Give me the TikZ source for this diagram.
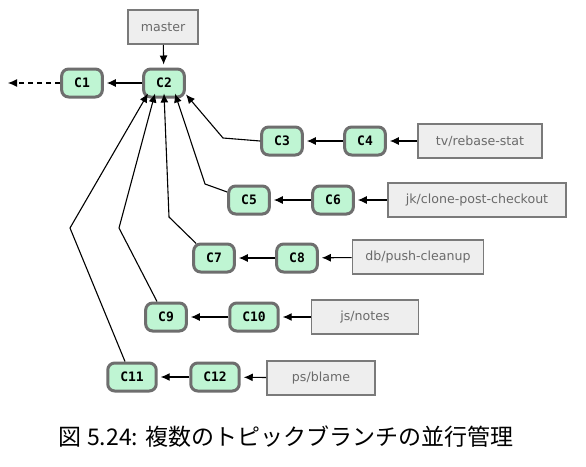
\documentclass[tikz,border=0pt]{standalone}
\usepackage{fontspec}
\setmainfont{DejaVu Sans}
\newfontfamily\cjk{Noto Sans CJK JP}
\newfontfamily\commitfont{DejaVu Sans Mono}
\usetikzlibrary{arrows.meta,positioning,calc}
\definecolor{cfill}{HTML}{BFF5D3}
\definecolor{cdraw}{HTML}{6E6E6E}
\definecolor{lfill}{HTML}{EEEEEE}
\definecolor{ldraw}{HTML}{7A7A7A}
\definecolor{ltext}{HTML}{6A6A6A}
\tikzset{
  commit/.style={draw=cdraw, fill=cfill, line width=3pt, rounded corners=7pt,
    minimum height=28pt, inner xsep=12.5pt, inner ysep=0pt,
    font=\commitfont\bfseries\fontsize{13}{13}\selectfont},
  refbox/.style={draw=ldraw, fill=lfill, line width=1.6pt, text=ltext,
    minimum height=34pt, inner xsep=3pt, inner ysep=0pt,
    font=\fontsize{12.6}{13}\selectfont},
  arr/.style={draw=black, line width=1.1pt, -{Latex[length=9pt,width=8pt]}},
  short/.style={shorten >=3pt},
  caption/.style={font=\cjk\fontsize{23}{23}\selectfont}
}
\begin{document}
\begin{tikzpicture}[x=1pt,y=-1pt]
\useasboundingbox[fill=white] (0,0) rectangle (586,466);
% commits
\node[commit] (C1) at (82,83) {C1};
\node[commit] (C2) at (164,83) {C2};
\node[commit] (C3) at (282,141) {C3};
\node[commit] (C4) at (365,141) {C4};
\node[commit] (C5) at (249,200) {C5};
\node[commit] (C6) at (333,200) {C6};
\node[commit] (C7) at (214,258) {C7};
\node[commit] (C8) at (297,258) {C8};
\node[commit] (C9) at (166,317) {C9};
\node[commit] (C10) at (254,317) {C10};
\node[commit] (C11) at (132,377) {C11};
\node[commit] (C12) at (215,377) {C12};
% refs
\node[refbox, minimum width=70pt] (master) at (163,27) {master};
\node[refbox, minimum width=124pt] (tv) at (480,141) {tv/rebase-stat};
\node[refbox, minimum width=178pt] (jk) at (477,200) {jk/clone-post-checkout};
\node[refbox, minimum width=131pt] (db) at (418,257) {db/push-cleanup};
\node[refbox, minimum width=107pt] (js) at (365,317) {js/notes};
\node[refbox, minimum width=108pt] (ps) at (321,378) {ps/blame};
\coordinate (c0) at (8,83);
% ref arrows
\draw[arr,short] (master) -- (C2);
\draw[arr,short] (tv) -- (C4);
\draw[arr,short] (jk) -- (C6);
\draw[arr,short] (db) -- (C8);
\draw[arr,short] (js) -- (C10);
\draw[arr,short] (ps) -- (C12);
% parent arrows
\draw[arr,short] (C2) -- (C1);
\draw[arr,dashed,dash pattern=on 5pt off 4pt] (C1) -- (c0);
\draw[arr,short] (C4) -- (C3);
\draw[arr,short] (C6) -- (C5);
\draw[arr,short] (C8) -- (C7);
\draw[arr,short] (C10) -- (C9);
\draw[arr,short] (C12) -- (C11);
% fan into C2
\draw[arr] (C3.west) -- (223,138) -- ([xshift=22pt,yshift=4pt]C2.south);
\draw[arr] ([yshift=8pt]C5.west) -- (205,184) -- ([xshift=11pt,yshift=5pt]C2.south);
\draw[arr] ([xshift=4pt,yshift=-1pt]C7.north west) -- (169,217) -- ([xshift=0pt,yshift=5pt]C2.south);
\draw[arr] ([xshift=-9pt]C9.north) -- (119,228) -- ([xshift=-9pt,yshift=5pt]C2.south);
\draw[arr] ([xshift=-7pt]C11.north) -- (70,228) -- ([xshift=-16pt,yshift=5pt]C2.south);
% caption
\node[caption] (cap) at (286,437) {図 5.24: 複数のトピックブランチの並行管理};
\end{tikzpicture}
\end{document}
